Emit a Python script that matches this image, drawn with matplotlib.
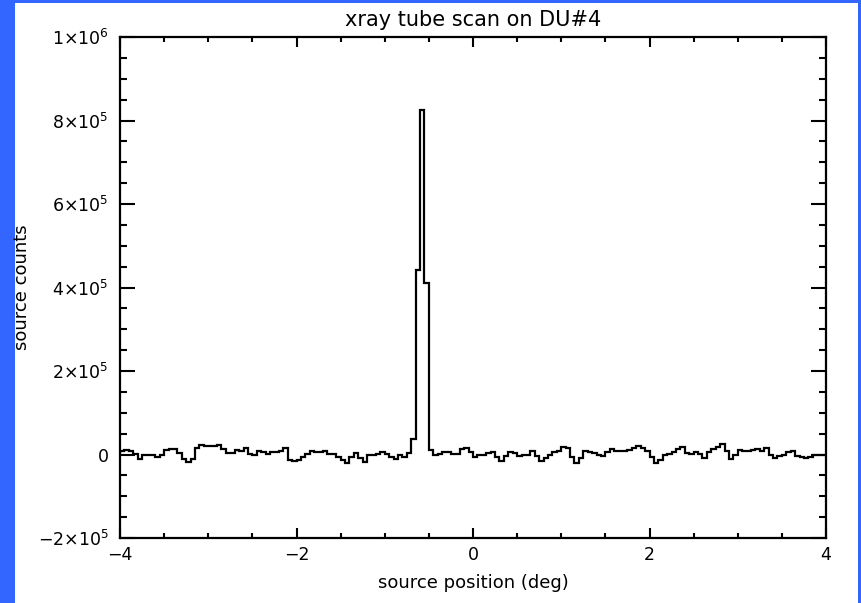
import numpy as np
import matplotlib
matplotlib.use("Agg")
import matplotlib.pyplot as plt
from matplotlib.patches import Rectangle
from matplotlib.ticker import MultipleLocator, FixedLocator


BORDER_COLOR = "#3366ff"
LINE_COLOR = "#000000"

# source counts per 0.05 deg bin (thousands)
counts_k = [
    8, 10, 9, 2, -11, 0, 0, -2, -5, 0,
    11, 12, 12, 3, -11, -18, -11, 16, 23, 20,
    20, 20, 22, 12, 3, 3, 10, 8, 15, 2,
    -1, 9, 5, 2, 5, 5, 8, 15, -12, -15,
    -12, -6, 2, 9, 5, 5, 9, 2, 2, -6,
    -14, -20, -6, 3, -8, -19, -1, -2, 2, 5,
    2, -6, -10, -1, -7, 3, 36, 443, 825, 410,
    10, -1, 2, 7, 5, 2, 2, 12, 15, 5,
    -5, -1, 0, 3, 6, -5, -15, -3, 7, 3,
    -3, -1, -1, 9, -3, -15, -8, 0, 5, 8,
    17, 16, -5, -21, -8, 8, 5, 3, -1, -3,
    5, 13, 9, 9, 8, 11, 15, 20, 16, 9,
    -7, -21, -13, -1, 2, 6, 14, 19, 3, 2,
    6, 2, -9, 6, 12, 18, 25, 9, -11, -1,
    11, 9, 9, 11, 12, 8, 15, 0, -8, -3,
    0, 5, 9, -3, -6, -8, -6, -1, -1, 0,
]
counts = np.array(counts_k, dtype=float) * 1e3
scan_start, scan_stop = -4.0, 4.0
bin_edges = np.linspace(scan_start, scan_stop, len(counts) + 1)

y_ticks = [-2e5, 0, 2e5, 4e5, 6e5, 8e5, 1e6]
y_tick_labels = [r"$-2{\times}10^5$", "0", r"$2{\times}10^5$", r"$4{\times}10^5$",
                 r"$6{\times}10^5$", r"$8{\times}10^5$", r"$1{\times}10^6$"]
x_ticks = [-4, -2, 0, 2, 4]
x_tick_labels = ["\u22124", "\u22122", "0", "2", "4"]

plt.rcParams["font.family"] = ["DejaVu Sans"]
plt.rcParams["mathtext.fontset"] = "dejavusans"
plt.rcParams["mathtext.default"] = "regular"

fig = plt.figure(figsize=(8.62, 6.03), dpi=100, facecolor=BORDER_COLOR)
fig.patches.append(Rectangle((15 / 862, 0), 843 / 862, 600 / 603,
                             transform=fig.transFigure, facecolor="white",
                             edgecolor="none", zorder=-10))

ax = fig.add_axes([120 / 862, 1 - 538 / 603, 706 / 862, 501 / 603])
ax.set_zorder(1)
ax.set_facecolor("white")
ax.stairs(counts, bin_edges, color=LINE_COLOR, linewidth=1.6)

ax.set_xlim(scan_start, scan_stop)
ax.set_ylim(-2e5, 1e6)
ax.xaxis.set_major_locator(FixedLocator(x_ticks))
ax.set_xticklabels(x_tick_labels)
ax.xaxis.set_minor_locator(MultipleLocator(0.5))
ax.yaxis.set_major_locator(FixedLocator(y_ticks))
ax.set_yticklabels(y_tick_labels)
ax.yaxis.set_minor_locator(MultipleLocator(5e4))

ax.tick_params(which="both", direction="in", top=True, right=True,
               width=1.5, labelsize=12.5, colors="black")
ax.tick_params(axis="x", which="major", length=7, pad=6)
ax.tick_params(axis="x", which="minor", length=3.3)
ax.tick_params(axis="y", which="major", length=10.5, pad=8)
ax.tick_params(axis="y", which="minor", length=5)
for spine in ax.spines.values():
    spine.set_linewidth(1.6)

ax.set_title("xray tube scan on DU#4", fontsize=15, pad=8)
ax.set_xlabel("source position (deg)", fontsize=13, labelpad=7)
ax.set_ylabel("source counts", fontsize=13, labelpad=5)

fig.savefig("out.png", dpi=100, facecolor=BORDER_COLOR)
